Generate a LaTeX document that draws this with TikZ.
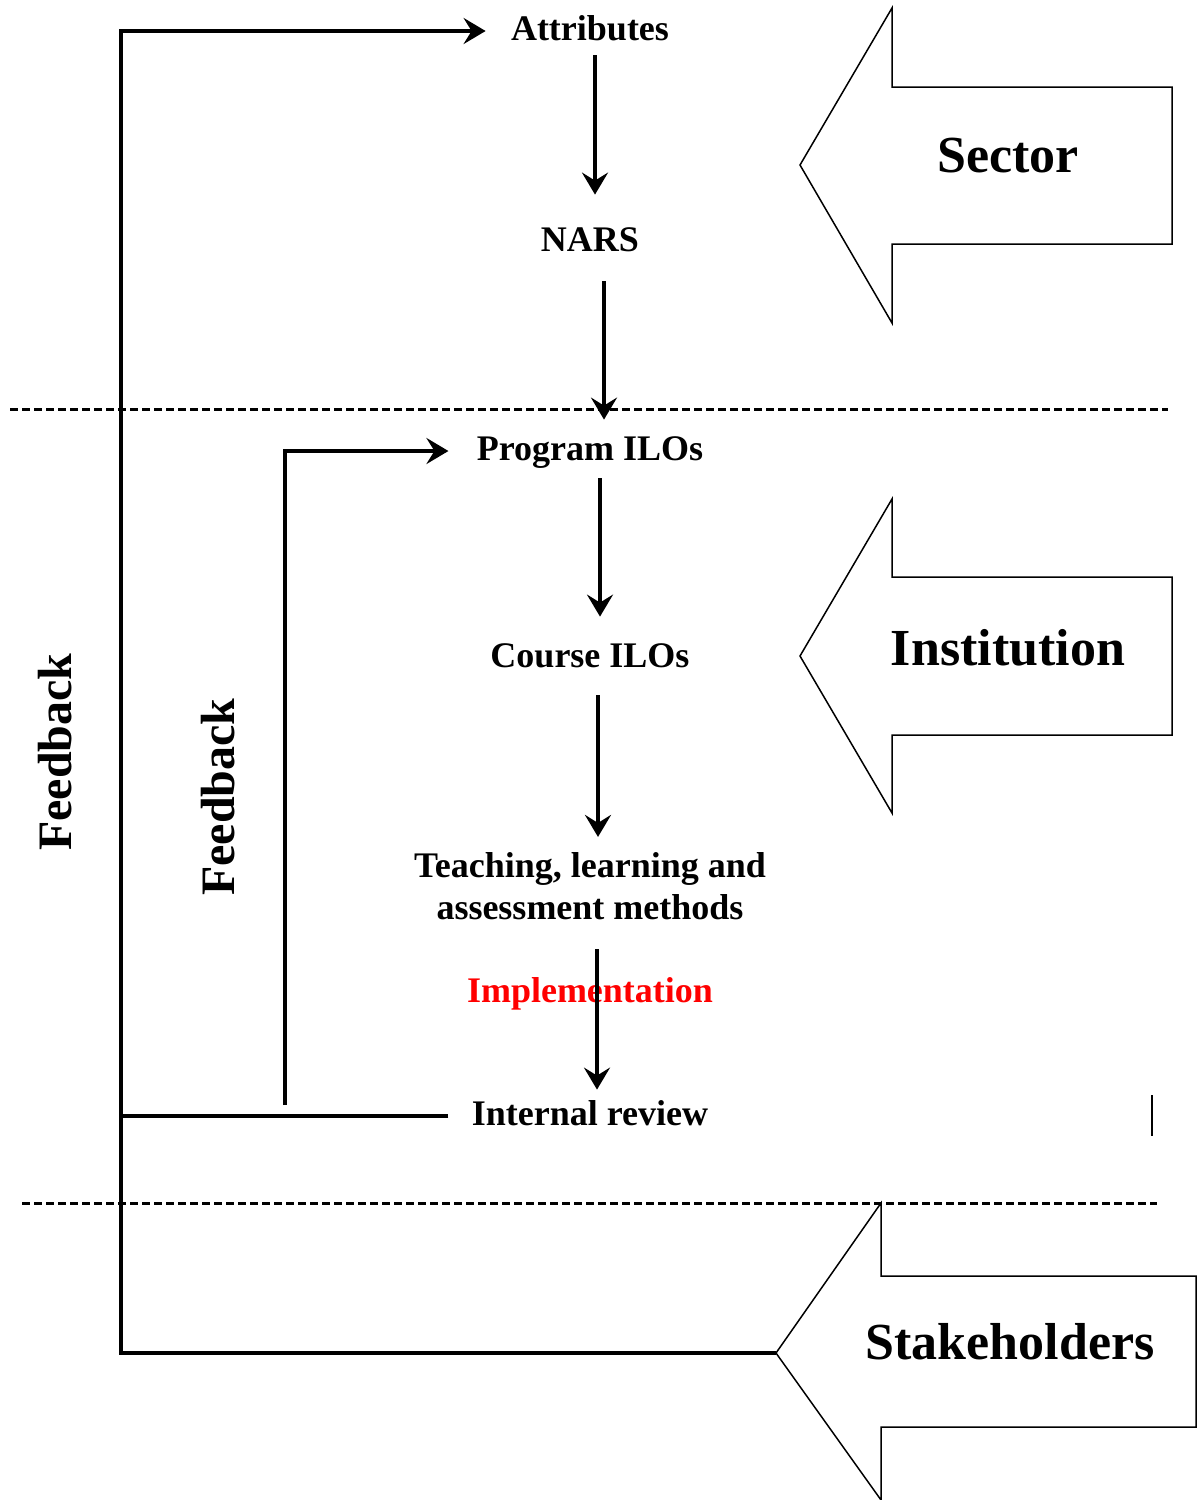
\documentclass[tikz,border=0pt]{standalone}
\usepackage{fontspec}
\setmainfont{Liberation Serif}
\usetikzlibrary{arrows.meta}

\tikzset{
    lbl/.style={font=\fontsize{18}{21}\selectfont\bfseries, inner sep=0pt, text height=13pt, text depth=4pt},
    big/.style={font=\fontsize{26}{30}\selectfont\bfseries, inner sep=0pt},
    flow/.style={line width=2pt, -{Stealth[length=11pt, width=13pt, inset=4pt]}},
    fb/.style={line width=2pt},
    dashline/.style={line width=1.5pt, dash pattern=on 4pt off 2pt},
    blockarrow/.style={line width=0.75pt}
}

\begin{document}
\begin{tikzpicture}[x=0.5pt, y=-0.5pt]
            \useasboundingbox (0,0) rectangle (1197,1500);

            % levels
            \draw[dashline] (10,409) -- (1168,409);
            \draw[dashline] (22,1203) -- (1157,1203);

            % block arrows on the right
            \draw[blockarrow] (800,165) -- (892,8) -- (892,87) -- (1172,87) -- (1172,244) -- (892,244) -- (892,323) -- cycle;
            \draw[blockarrow] (800,656) -- (892,499) -- (892,577) -- (1172,577) -- (1172,735) -- (892,735) -- (892,813) -- cycle;
            \draw[blockarrow] (776,1353) -- (881,1203) -- (881,1276) -- (1196,1276) -- (1196,1427) -- (881,1427) -- (881,1500) -- cycle;
            \node[big] (sector) at (1008,156) {Sector};
            \node[big] (inst) at (1008,648) {Institution};
            \node[big] (stake) at (1010,1342) {Stakeholders};
            \coordinate (stip) at (776,1353);
            \draw[blockarrow] (1152,1095) -- (1152,1136);

            % chain
            \node[lbl] (attr) at (590,31) {Attributes};
            \node[lbl] (nars) at (590,242) {NARS};
            \node[lbl] (prog) at (590,451) {Program ILOs};
            \node[lbl] (course) at (590,658) {Course ILOs};
            \node[lbl, align=center, text height=, text depth=] (teach) at (590,886) {Teaching, learning and\\assessment methods};
            \node[lbl, red] (impl) at (590,993) {Implementation};
            \node[lbl] (review) at (590,1116) {Internal review};

            \draw[flow, shorten <=3.5pt, shorten >=15pt] ([xshift=2.5pt]attr.south) -- ([xshift=2.5pt]nars.north);
            \draw[flow, shorten <=11pt, shorten >=7pt] ([xshift=7pt]nars.south) -- ([xshift=7pt]prog.north);
            \draw[flow, shorten <=5pt, shorten >=12pt] ([xshift=5pt]prog.south) -- ([xshift=5pt]course.north);
            \draw[flow, shorten <=10pt, shorten >=7.5pt] ([xshift=4pt]course.south) -- ([xshift=4pt]teach.north);
            \draw[flow, shorten <=14.5pt, shorten >=4.5pt] ([xshift=3.5pt]teach.south) -- ([xshift=3.5pt]review.north);

            % feedback loops
            \coordinate (fbx) at (121,0);
            \coordinate (ib) at (285,1105);
            \draw[flow, shorten >=12.5pt] (stip) -| (fbx |- attr.west) -- (attr.west);
            \draw[fb, shorten <=11.5pt] (review.west) -- (review.west -| fbx);
            \draw[flow, shorten >=14pt] (ib) |- (prog.west);
            \node[big, font=\fontsize{24}{28}\selectfont\bfseries, rotate=90] (fb1) at (55,752) {Feedback};
            \node[big, font=\fontsize{24}{28}\selectfont\bfseries, rotate=90] (fb2) at (218,797) {Feedback};
        \end{tikzpicture}
\end{document}
